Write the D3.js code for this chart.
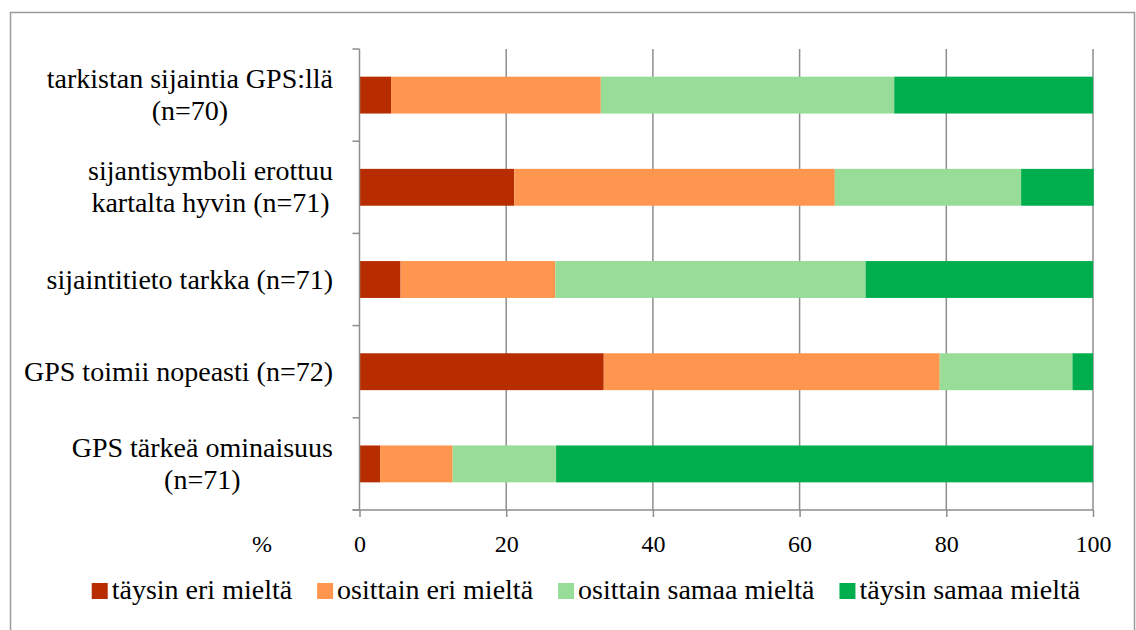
<!DOCTYPE html>
<html>
<head>
<meta charset="utf-8">
<script src="https://cdn.jsdelivr.net/npm/d3@7"></script>
<style>
  html, body { margin: 0; padding: 0; background: #fff; }
  svg { display: block; }
</style>
</head>
<body>
<svg id="chart" width="1136" height="630"></svg>
<script>
// Survey statements (top to bottom); each label may span several lines
const categories = [
  "tarkistan sijaintia GPS:llä (n=70)",
  "sijantisymboli erottuu kartalta hyvin (n=71)",
  "sijaintitieto tarkka (n=71)",
  "GPS toimii nopeasti (n=72)",
  "GPS tärkeä ominaisuus (n=71)"
];
const categoryLines = [
  ["tarkistan sijaintia GPS:llä", "(n=70)"],
  ["sijantisymboli erottuu", "kartalta hyvin (n=71)"],
  ["sijaintitieto tarkka (n=71)"],
  ["GPS toimii nopeasti (n=72)"],
  ["GPS tärkeä ominaisuus", "(n=71)"]
];

// Answer shares, % of respondents
const seriesNames = ["täysin eri mieltä", "osittain eri mieltä", "osittain samaa mieltä", "täysin samaa mieltä"];
const taysinEri     = [4.3, 21.1, 5.6, 33.3, 2.8];
const osittainEri   = [28.6, 43.7, 21.1, 45.8, 9.9];
const osittainSamaa = [40.0, 25.4, 42.3, 18.1, 14.1];
const taysinSamaa   = [27.1, 9.9, 31.0, 2.8, 73.2];
const seriesColors  = ["#b82d00", "#ff9650", "#97dc97", "#00ae4e"];

const xTicks = [0, 20, 40, 60, 80, 100];
const xUnit = "%";

const FONT = "Liberation Serif";
const svg = d3.select("#chart");

function styleText(sel, size) {
  return sel.style("font-family", FONT).style("font-size", size + "px").style("fill", "#000");
}

// outer frame
svg.append("rect")
  .attr("x", 10.5).attr("y", 12.5)
  .attr("width", 1124).attr("height", 640)
  .attr("fill", "none").attr("stroke", "#9a9a9a").attr("stroke-width", 1.5);

const plot = { left: 359.5, right: 1093, top: 49, bottom: 510 };

const x = d3.scaleLinear().domain([0, 100]).range([plot.left, plot.right]);
const y = d3.scaleBand().domain(categories).range([plot.top, plot.bottom])
  .paddingInner(0.6).paddingOuter(0.3);

const rows = categories.map((c, i) => ({
  cat: c,
  vals: [taysinEri[i], osittainEri[i], osittainSamaa[i], taysinSamaa[i]]
}));
const stack = d3.stack().keys([0, 1, 2, 3]).value((d, k) => d.vals[k]);
const layers = stack(rows);

const gridColor = "#8e8e8e";

// vertical gridlines
svg.append("g").selectAll("line").data(xTicks.slice(1)).join("line")
  .attr("x1", d => x(d)).attr("x2", d => x(d))
  .attr("y1", plot.top).attr("y2", plot.bottom)
  .attr("stroke", gridColor).attr("stroke-width", 1.5);

// stacked bars
svg.append("g").selectAll("g").data(layers).join("g")
  .attr("fill", (d, i) => seriesColors[i])
  .selectAll("rect").data(d => d).join("rect")
  .attr("x", d => x(d[0]))
  .attr("width", d => x(d[1]) - x(d[0]))
  .attr("y", d => y(d.data.cat))
  .attr("height", y.bandwidth());

// category axis (ticks on band boundaries)
const step = y.step();
const boundaries = categories.map(c => y(c) - step * y.paddingInner() / 2).concat([plot.bottom]);
svg.append("line")
  .attr("x1", plot.left).attr("x2", plot.left)
  .attr("y1", plot.top).attr("y2", plot.bottom)
  .attr("stroke", gridColor).attr("stroke-width", 1.5);
svg.append("g").selectAll("line").data(boundaries).join("line")
  .attr("x1", plot.left - 7).attr("x2", plot.left)
  .attr("y1", d => d).attr("y2", d => d)
  .attr("stroke", gridColor).attr("stroke-width", 1.5);

// value axis
const xAxis = d3.axisBottom(x).tickValues(xTicks).tickSize(7).tickPadding(18);
const gx = svg.append("g").attr("transform", `translate(0,${plot.bottom})`).call(xAxis);
gx.attr("font-family", null).attr("font-size", null);
gx.select(".domain").attr("stroke", gridColor).attr("stroke-width", 1.5)
  .attr("d", `M${plot.left - 7},0H${plot.right}`);
gx.selectAll(".tick line").attr("stroke", gridColor).attr("stroke-width", 1.5);
styleText(gx.selectAll(".tick text"), 24).attr("dy", null).attr("y", 42);

styleText(svg.append("text"), 24).attr("x", 262).attr("y", 552)
  .attr("text-anchor", "middle").text(xUnit);

// category labels: block right-aligned to the axis, lines centred within the block
const labelRight = 333;
const lineH = 32;
categoryLines.forEach((lines, i) => {
  const g = svg.append("g");
  const cy = y(categories[i]) + y.bandwidth() / 2;
  const texts = lines.map((t, j) => styleText(g.append("text"), 28)
    .attr("text-anchor", "middle")
    .attr("y", cy + (j - (lines.length - 1) / 2) * lineH + 9)
    .text(t));
  const maxW = d3.max(texts, t => t.node().getComputedTextLength());
  texts.forEach(t => t.attr("x", labelRight - maxW / 2));
});

// legend, centred under the chart
const legend = svg.append("g");
const sq = 16, gapText = 4, gapItem = 25;
let lx = 0;
seriesNames.forEach((name, i) => {
  legend.append("rect").attr("x", lx).attr("y", -16).attr("width", sq).attr("height", sq)
    .attr("fill", seriesColors[i]);
  const t = styleText(legend.append("text"), 28).attr("x", lx + sq + gapText).attr("y", 0).text(name);
  lx += sq + gapText + t.node().getComputedTextLength() + gapItem;
});
const legendW = lx - gapItem;
legend.attr("transform", `translate(${586 - legendW / 2},599)`);
</script>
</body>
</html>
